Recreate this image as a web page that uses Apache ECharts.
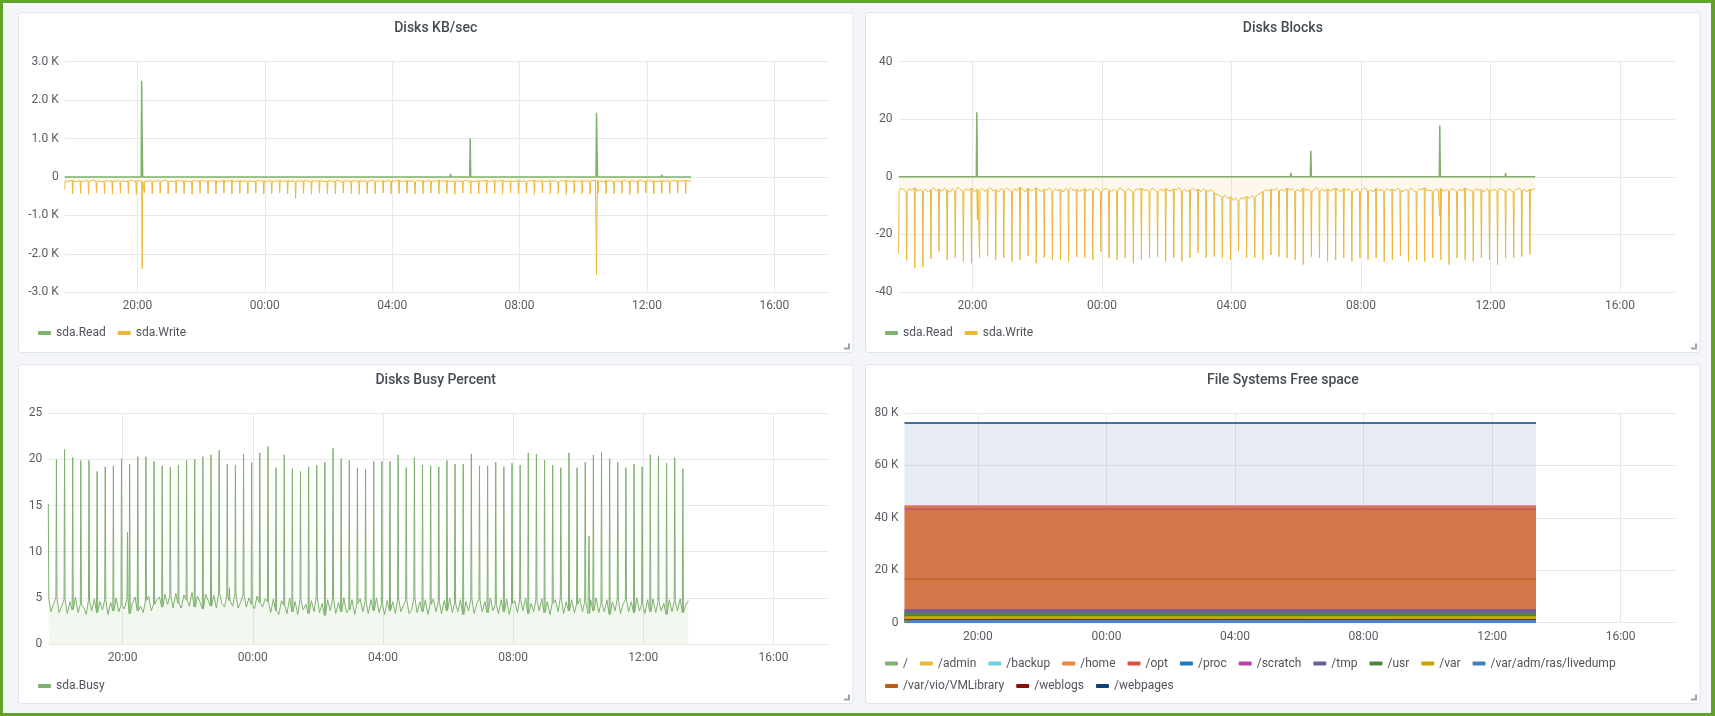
<!DOCTYPE html>
<html>
<head>
<meta charset="utf-8">
<title>Disks</title>
<script src="https://cdn.jsdelivr.net/npm/echarts@6/dist/echarts.min.js"></script>
<style>
html, body { margin: 0; padding: 0; background: #f4f5f8; }
#chart { width: 1715px; height: 716px; }
#frame { position: absolute; left: 0; top: 0; width: 1715px; height: 716px; box-sizing: border-box;
         border: 3px solid #62a22b; border-right-width: 4px; pointer-events: none; }
</style>
</head>
<body>
<div id="chart"></div>
<div id="frame"></div>
<script>
// time range (hours of day, next day continues past 24)
var rangeStart = '17:43', dataEnd = '13:23';
var tickHours = [20, 24, 28, 32, 36, 40];
var tickLabels = ['20:00', '00:00', '04:00', '08:00', '12:00', '16:00'];

// disk busy %, one value every 5 min from 17:43
var busyBase = [
  4.9, 3.5, 4.4, 5.0, 3.4, 4.2, 4.8, 3.3, 4.6, 3.7,
  5.1, 3.4, 4.3, 4.0, 3.2, 4.7, 3.6, 4.9, 3.4, 4.6,
  3.7, 4.8, 3.2, 4.5, 3.6, 5.0, 3.5, 4.2, 3.8, 4.9,
  3.3, 4.4, 5.1, 3.6, 4.1, 3.4, 4.7, 5.2, 3.6, 4.3,
  4.8,
  5.1, 4.0, 5.4, 4.3, 5.2, 3.9, 5.5, 4.4, 3.9, 5.3,
  4.8, 4.1, 5.6, 4.0, 5.2, 4.5, 3.8, 5.4, 4.7, 4.1,
  5.3, 3.9, 5.5, 4.4, 4.0, 5.2, 4.7, 4.1, 5.4, 3.9,
  4.6, 5.3, 4.0, 5.0, 4.3, 3.8, 5.2, 4.5, 4.0, 4.9,
  4.6, 3.4, 4.9, 3.6, 3.2, 4.7, 4.2, 3.3, 5.0, 3.5,
  4.6, 3.2, 4.8, 3.7, 4.3, 3.3, 4.7, 3.5, 5.1, 3.4,
  4.4, 3.1, 4.8, 3.6, 4.9, 3.3, 4.5, 3.5, 5.0, 3.4,
  3.7, 4.8, 3.2, 4.4, 4.9, 3.5, 4.6, 3.3, 4.8, 3.6,
  5.0, 3.4, 4.3, 3.2, 4.7, 3.6, 4.6, 3.3, 4.9, 3.5,
  4.2, 4.8, 3.3, 3.7, 5.0, 3.4, 4.6, 3.5, 4.8, 3.2,
  4.3, 4.9, 3.5, 4.6, 3.3, 4.7, 3.6, 5.0, 3.4, 4.4,
  3.5, 4.8, 3.2, 4.6, 3.6, 4.9, 3.3, 4.4, 4.8, 3.5,
  4.6, 3.4, 5.0, 3.6, 4.3, 3.3, 4.8, 3.5, 4.9, 3.2,
  4.4, 4.7, 3.4, 4.8, 3.6, 5.0, 3.3, 4.4, 3.5, 4.8,
  3.6, 4.9, 3.4, 4.6, 3.2, 4.4, 4.8, 3.5, 5.0, 3.3,
  4.6, 3.6, 4.8, 3.4, 4.3, 4.9, 3.5, 4.6, 3.3, 4.8,
  3.6, 5.0, 3.4, 4.4, 3.5, 4.8, 3.2, 4.6, 3.6, 4.9,
  3.3, 4.4, 4.8, 3.5, 4.6, 3.4, 5.0, 3.6, 4.3, 3.3,
  4.8, 3.5, 4.9, 3.4, 4.6, 3.6, 4.4, 3.2, 4.8, 3.5,
  4.6, 3.6, 4.9, 3.4, 4.2, 4.7
];
// 15-minute job peaks, first at 17:43
var busyPeaks = [
  15.2, 20.0, 21.1, 20.2, 19.9, 19.9, 18.7, 19.2, 19.3, 20.1,
  19.5, 20.3, 20.3, 19.8, 19.3, 19.2, 19.4, 19.9, 20.0, 20.3,
  20.5, 21.0, 19.5, 19.4, 20.6, 19.7, 20.7, 21.4, 19.1, 20.5,
  19.0, 18.7, 19.2, 19.4, 19.7, 21.2, 20.1, 19.9, 19.1, 18.9,
  19.8, 19.8, 19.8, 20.5, 19.1, 20.2, 19.4, 19.3, 19.2, 19.9,
  19.5, 19.5, 20.6, 19.3, 19.3, 19.7, 19.2, 19.6, 19.4, 20.7,
  20.6, 19.9, 19.4, 19.1, 20.7, 19.1, 19.7, 20.5, 20.8, 20.1,
  19.7, 19.1, 19.5, 19.2, 20.5, 20.4, 19.6, 20.2, 19.0
];
var busyEventTimes = ['20:09', '23:17', '10:20'];
var busyEventVals = [[12.1], [6.1], [11.7]];

// Disks KB/sec, write shown negative
var kbWriteBase = [
  -96, -118, -104, -88, -126, -110, -99, -121, -92, -113,
  -105, -84, -117, -98, -129, -107, -93, -115, -101, -122,
  -90, -111, -97, -124, -103, -86, -119, -108, -95, -114,
  -100, -127, -91, -109, -116, -94, -120, -102, -87, -112,
  -106, -123, -98, -89, -118, -104, -97, -125, -110, -93,
  -115, -101, -86, -121, -108, -96, -113, -99, -128, -105,
  -92, -117, -103, -88, -124, -109, -95, -119, -100, -111,
  -97, -122, -106, -90, -114, -102, -126, -94, -108, -118,
  -99, -87, -120, -105, -93, -116, -101, -123, -96, -112,
  -104, -89, -125, -107, -98, -115, -92, -110, -121, -100,
  -94, -118, -103, -86, -127, -109, -97, -114, -105, -91,
  -120, -100, -113, -95, -124, -106, -88, -117, -102, -111,
  -98, -123, -92, -108, -116, -101, -85, -119, -107, -96,
  -114, -103, -126, -90, -110, -99, -121, -94, -105, -117,
  -100, -88, -115, -106, -93, -124, -102, -111, -97, -120,
  -104, -91, -118, -99, -127, -108, -95, -113, -101, -86,
  -122, -107, -94, -116, -103, -89, -119, -110, -98, -125,
  -105, -92, -114, -100, -121, -97, -109, -87, -117, -103,
  -96, -124, -106, -93, -112, -101, -128, -99, -115, -90,
  -108, -119, -95, -104, -123, -91, -111, -102, -116, -98,
  -87, -113, -105, -126, -94, -109, -100, -120, -97, -114,
  -103, -90, -117, -107, -95, -122, -101, -88, -118, -106,
  -93, -115, -99, -124, -104, -96, -112, -100, -121, -92,
  -109, -97, -116, -103, -88, -110, -105
];
var kbWritePeaks = [
  -320, -440, -425, -450, -415, -435, -445, -420, -430, -455,
  -410, -440, -428, -446, -418, -437, -452, -424, -433, -441,
  -416, -448, -429, -436, -421, -444, -431, -413, -439, -556,
  -427, -449, -420, -435, -443, -417, -432, -451, -426, -438,
  -414, -445, -430, -422, -447, -434, -419, -441, -428, -453,
  -416, -436, -442, -425, -431, -448, -419, -437, -427, -444,
  -412, -439, -433, -450, -421, -429, -446, -418, -435, -440,
  -424, -452, -430, -415, -443, -426, -438, -420, -432
];
var kbWriteEventTimes = ['20:09', '10:25'];
var kbWriteEventVals = [[-2391], [-2540, -904]];
var kbReadEventTimes = ['20:08', '05:50', '06:27', '10:25', '12:28'];
var kbReadEventVals = [[2504, 939], [80], [1000], [1670, 635], [60]];

// Disks Blocks, write shown negative
var blkWriteBase = [
  -4.8, -3.9, -4.5, -5.2, -4.1, -4.7, -3.8, -5.0, -4.4, -4.9,
  -4.2, -5.3, -4.6, -3.7, -4.9, -4.3, -5.1, -4.0, -4.6, -5.4,
  -4.1, -4.8, -3.6, -4.5, -5.0, -4.2, -4.7, -3.9, -5.2, -4.4,
  -4.6, -4.0, -5.1, -4.3, -3.8, -4.9, -4.5, -5.3, -4.1, -4.7,
  -3.9, -4.6, -5.0, -4.2, -4.8, -3.7, -4.4, -5.2, -4.0, -4.9,
  -4.5, -3.8, -4.7, -5.1, -4.3, -4.6, -3.9, -5.0, -4.2, -4.8,
  -4.4, -5.3, -4.0, -4.6, -3.8, -4.9, -4.3, -5.1, -4.7, -4.1,
  -5.0, -4.2, -4.8, -3.9, -4.5, -5.2, -4.4, -4.0, -4.7, -5.1,
  -4.3, -4.9, -3.8, -4.6, -5.0, -4.1, -4.7, -5.3, -4.2, -4.5,
  -3.9, -4.8, -4.4, -5.1, -4.0, -4.6, -5.2, -4.3, -4.9, -4.1,
  -4.7, -5.0, -4.2, -4.5, -3.8, -4.9, -4.4, -5.1, -4.6, -4.0,
  -4.8, -4.3, -5.2, -4.1, -4.7, -5.0, -4.5, -5.6, -6.1, -6.6,
  -7.0, -6.4, -7.6, -6.9, -8.2, -7.3, -8.5, -7.1, -7.8, -6.8,
  -7.5, -6.6, -7.2, -6.2, -5.7, -5.1, -4.6, -4.9, -4.3, -4.7,
  -4.1, -4.8, -4.4, -5.0, -3.9, -4.6, -4.2, -4.9, -4.5, -5.2,
  -4.0, -4.7, -4.3, -5.1, -4.6, -3.8, -4.8, -4.4, -5.0, -4.2,
  -4.9, -4.5, -3.9, -4.7, -5.2, -4.1, -4.6, -4.3, -5.0, -4.8,
  -4.2, -5.1, -4.4, -3.8, -4.9, -4.6, -5.3, -4.0, -4.7, -4.5,
  -5.0, -4.1, -4.8, -4.3, -4.9, -3.9, -4.6, -5.2, -4.4, -4.7,
  -4.0, -4.8, -5.1, -4.2, -4.5, -3.8, -4.9, -4.6, -5.0, -4.3,
  -4.7, -4.1, -5.2, -4.4, -4.8, -4.0, -4.6, -5.1, -4.3, -4.9,
  -3.9, -4.5, -4.8, -5.0, -4.2, -4.7, -4.4, -5.3, -4.1, -4.6,
  -4.8, -4.3, -5.0, -3.9, -4.6, -4.9, -4.2, -4.7, -5.1, -4.4,
  -4.0, -4.8, -4.5, -5.2, -4.3, -4.6, -4.1
];
var blkWritePeaks = [
  -26.5, -29.0, -31.7, -31.4, -28.5, -25.9, -28.8, -28.2, -29.4, -30.0,
  -28.2, -27.6, -28.8, -28.2, -29.4, -28.8, -27.5, -30.0, -28.2, -28.8,
  -28.8, -29.4, -27.9, -28.2, -28.8, -26.1, -28.2, -28.8, -28.2, -30.0,
  -28.8, -28.2, -27.7, -29.4, -28.2, -29.4, -28.2, -26.4, -28.2, -27.7,
  -28.2, -28.8, -25.8, -28.2, -28.2, -28.8, -27.1, -27.7, -28.2, -28.8,
  -30.5, -27.7, -28.2, -29.4, -28.8, -28.2, -29.4, -28.2, -28.8, -28.2,
  -29.4, -28.8, -27.3, -29.4, -28.8, -29.4, -28.2, -28.8, -30.5, -28.2,
  -28.8, -29.4, -28.2, -28.8, -30.5, -28.2, -28.2, -27.7, -27.0
];
var blkWriteEventTimes = ['20:09', '10:26'];
var blkWriteEventVals = [[-14.8], [-13.6]];
var blkReadEventTimes = ['20:08', '05:50', '06:27', '10:26', '12:28'];
var blkReadEventVals = [[22.4], [1.4], [9.1], [17.8], [1.3]];

// File systems free space (MB), flat over the range
var fsNames = ['/', '/admin', '/backup', '/home', '/opt', '/proc', '/scratch', '/tmp', '/usr', '/var',
               '/var/adm/ras/livedump', '/var/vio/VMLibrary', '/weblogs', '/webpages'];
var fsFree = [270, 60, 30, 44600, 150, 0, 43300, 4900, 3600, 2300, 770, 16600, 1150, 76200];

// ---------------------------------------------------------------
var fsColors = ['#7EB26D', '#EAB839', '#6ED0E0', '#EF843C', '#E24D42', '#1F78C1', '#BA43A9', '#705DA0',
                '#508642', '#CCA300', '#447EBC', '#C15C17', '#890F02', '#0A437C'];
var fsFill = { '/webpages': ['#0A437C', 0.1], '/home': ['#D3764A', 1], '/tmp': ['#705DA0', 1],
               '/usr': ['#508642', 1], '/var': ['#C9A21C', 1], '/var/adm/ras/livedump': ['#447EBC', 1] };
var fsDrawOrder = ['/webpages', '/home', '/scratch', '/var/vio/VMLibrary', '/tmp', '/usr', '/var', '/weblogs',
                   '/var/adm/ras/livedump', '/', '/opt', '/backup', '/admin', '/proc'];

var GREEN = '#7EB26D', YELLOW = '#EAB839';
var labelColor = '#5a5d63', gridColor = '#e9e9ec', font = 'Roboto';
var MIN = 1 / 60;

function toHours(s) {
    var p = s.split(':');
    var h = +p[0] + p[1] / 60;
    if (h < 17) h += 24;
    return h;
}
var t0 = toHours(rangeStart), tEnd = toHours(dataEnd);

function buildSeries(base, peaks, evTimes, evVals) {
    var pts = [];
    var wins = evTimes.map(function (s, i) {
        var t = toHours(s);
        return [t - MIN - 1e-6, t + evVals[i].length * MIN + 1e-6];
    });
    function hidden(t) {
        return wins.some(function (w) { return t >= w[0] && t <= w[1]; });
    }
    if (base) {
        base.forEach(function (b, j) {
            var t = t0 + j * 5 * MIN;
            if (hidden(t)) return;
            if (j % 3 === 0 && peaks[j / 3] != null) {
                if (j > 0) pts.push([t - MIN, b]);
                pts.push([t, peaks[j / 3]]);
                pts.push([t + MIN, b]);
            } else {
                pts.push([t, b]);
            }
        });
    } else {
        pts.push([t0, 0]);
        pts.push([tEnd, 0]);
    }
    evTimes.forEach(function (s, i) {
        var t = toHours(s);
        var b = base ? base[Math.round((t - t0) * 12)] : 0;
        pts.push([t - MIN, b]);
        evVals[i].forEach(function (v, n) { pts.push([t + n * MIN, v]); });
        pts.push([t + evVals[i].length * MIN, b]);
    });
    pts.sort(function (a, b) { return a[0] - b[0]; });
    return pts;
}

var kbWrite = buildSeries(kbWriteBase, kbWritePeaks, kbWriteEventTimes, kbWriteEventVals);
var kbRead = buildSeries(null, [], kbReadEventTimes, kbReadEventVals);
var blkWrite = buildSeries(blkWriteBase, blkWritePeaks, blkWriteEventTimes, blkWriteEventVals);
var blkRead = buildSeries(null, [], blkReadEventTimes, blkReadEventVals);
var busy = buildSeries(busyBase, busyPeaks, busyEventTimes, busyEventVals);

// panel boxes and plot areas (px)
var panels = [
    [18.5, 12.5, 834.5, 340], [865.5, 12.5, 834.5, 340],
    [18.5, 364.5, 834.5, 339], [865.5, 364.5, 834.5, 339]
];
var grids = [
    { left: 64.7, top: 61.7, width: 764.3, height: 230.6 },
    { left: 898.6, top: 61.7, width: 777, height: 230.3 },
    { left: 48.3, top: 413.3, width: 781, height: 230.7 },
    { left: 904.5, top: 413, width: 771.3, height: 209.7 }
];

function xAxis(i) {
    return {
        type: 'value', gridIndex: i, min: t0, max: t0 + 24,
        axisLine: { show: false },
        axisTick: { show: false, customValues: tickHours },
        axisLabel: {
            customValues: tickHours, color: labelColor, fontSize: 12, fontFamily: font, margin: 8,
            formatter: function (v) {
                var k = tickHours.indexOf(Math.round(v));
                return k >= 0 ? tickLabels[k] : '';
            }
        },
        splitLine: { show: true, lineStyle: { color: gridColor, width: 1 } }
    };
}
function yAxis(i, min, max, interval, fmt) {
    return {
        type: 'value', gridIndex: i, min: min, max: max, interval: interval,
        axisLine: { show: false }, axisTick: { show: false },
        axisLabel: { color: labelColor, fontSize: 12, fontFamily: font, margin: 6, formatter: fmt },
        splitLine: { lineStyle: { color: gridColor, width: 1 } }
    };
}
function kFmt1(v) { return v === 0 ? '0' : (v / 1000).toFixed(1) + ' K'; }
function kFmt0(v) { return v === 0 ? '0' : (v / 1000) + ' K'; }

function line(name, gi, data, color, fillOpacity, width) {
    return {
        name: name, type: 'line', xAxisIndex: gi, yAxisIndex: gi, data: data,
        showSymbol: false, symbol: 'none', silent: true, color: color,
        lineStyle: { width: width || 1, color: color },
        areaStyle: { color: color, opacity: fillOpacity }
    };
}

var series = [
    line('sda.Write', 0, kbWrite, YELLOW, 0.1),
    line('sda.Read', 0, kbRead, GREEN, 0.1, 1.5),
    line('sda.Write', 1, blkWrite, YELLOW, 0.1),
    line('sda.Read', 1, blkRead, GREEN, 0.1, 1.5),
    line('sda.Busy', 2, busy, GREEN, 0.1)
];
fsDrawOrder.forEach(function (name) {
    var i = fsNames.indexOf(name);
    var s = line(name, 3, [[t0, fsFree[i]], [toHours('13:22'), fsFree[i]]], fsColors[i], 0,
                 name === '/webpages' ? 1.5 : 1);
    var f = fsFill[name];
    if (f) s.areaStyle = { color: f[0], opacity: f[1] };
    else s.areaStyle = null;
    series.push(s);
});

function legend(left, top, names) {
    return {
        left: left, top: top, padding: 0, itemWidth: 13, itemHeight: 4, itemGap: 12, icon: 'roundRect',
        selectedMode: false, data: names,
        textStyle: { color: '#52545c', fontSize: 12, fontFamily: font }
    };
}
function title(text, cx, top) {
    return {
        text: text, left: cx, top: top, padding: 0, textAlign: 'center',
        textStyle: { color: '#464c54', fontSize: 14, fontWeight: 500, fontFamily: font }
    };
}

var graphic = [];
panels.forEach(function (p) {
    graphic.push({
        type: 'rect', z: -10, silent: true,
        shape: { x: p[0], y: p[1], width: p[2], height: p[3], r: 3 },
        style: { fill: '#ffffff', stroke: '#dfe4ec', lineWidth: 1 }
    });
    var r = p[0] + p[2], b = p[1] + p[3];
    graphic.push({
        type: 'polyline', silent: true,
        shape: { points: [[r - 9, b - 4], [r - 4, b - 4], [r - 4, b - 9]] },
        style: { stroke: '#9aa1aa', lineWidth: 2, fill: null }
    });
});

var chart = echarts.init(document.getElementById('chart'), null, { width: 1715, height: 716 });
chart.setOption({
    animation: false,
    backgroundColor: '#f4f5f8',
    title: [
        title('Disks KB/sec', 435.7, 21),
        title('Disks Blocks', 1282.8, 21),
        title('Disks Busy Percent', 435.7, 373),
        title('File Systems Free space', 1282.8, 373)
    ],
    legend: [
        legend(38, 327, ['sda.Read', 'sda.Write']),
        legend(885, 327, ['sda.Read', 'sda.Write']),
        legend(38, 680, ['sda.Busy']),
        legend(885, 657.5, fsNames.slice(0, 11)),
        legend(885, 680, fsNames.slice(11))
    ],
    grid: grids,
    xAxis: [xAxis(0), xAxis(1), xAxis(2), xAxis(3)],
    yAxis: [
        yAxis(0, -3000, 3000, 1000, kFmt1),
        yAxis(1, -40, 40, 20),
        yAxis(2, 0, 25, 5),
        yAxis(3, 0, 80000, 20000, kFmt0)
    ],
    graphic: graphic,
    series: series
});
</script>
</body>
</html>
